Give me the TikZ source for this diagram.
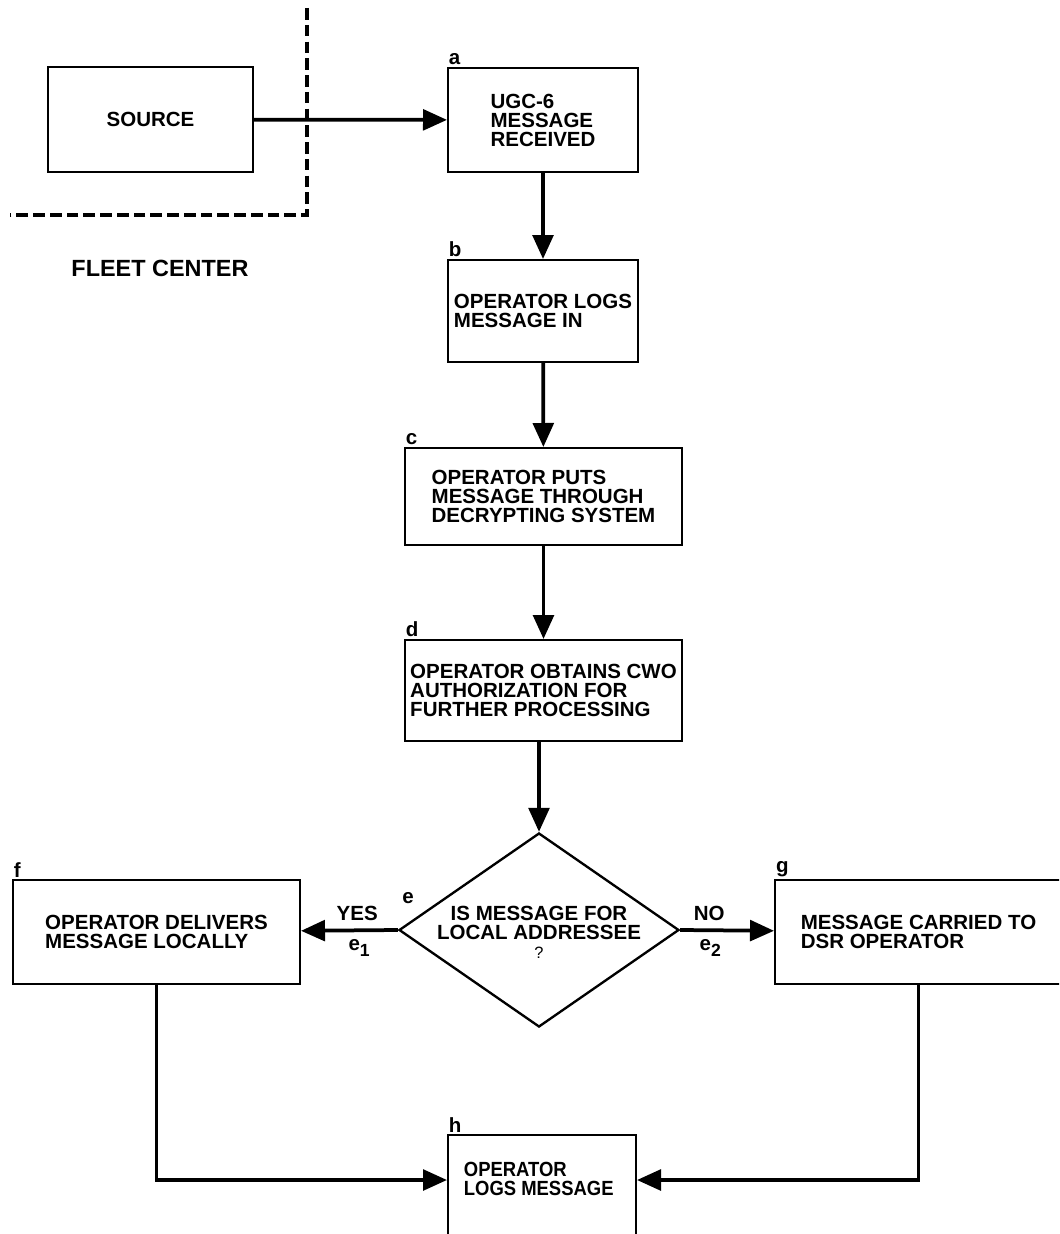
\documentclass[tikz,border=0pt]{standalone}
\usepackage{fontspec}
\setmainfont{Liberation Sans}
\newfontfamily\narrowsans{Liberation Sans}[FakeStretch=0.9]
\usetikzlibrary{arrows.meta,shapes.geometric}

% lowered subscript index used on the branch labels
\newcommand{\branchidx}[1]{\raisebox{-5pt}{\fontsize{15}{15}\selectfont #1}}

\begin{document}
\begin{tikzpicture}[x=0.03cm,y=-0.03cm,
  every node/.style={font=\fontsize{17.5}{16.2}\selectfont\bfseries},
  stepbox/.style={draw, line width=1.7pt, align=left, inner sep=0pt},
  decision/.style={diamond, draw, line width=2pt, inner sep=0pt},
  flow/.style={line width=3.2pt, -{Triangle[length=0.72cm,width=0.62cm]}},
  tag/.style={anchor=south west, inner sep=1.5pt},
  boundary/.style={line width=2.6pt, dash pattern=on 10pt off 4.3pt},
]
\useasboundingbox (0,0) rectangle (1059,1234);
\clip (0,0) rectangle (1059,1234);

% fleet center boundary
\draw[boundary] (307,8) -- (307,215) -- (10,215);
\node (fleet) at (160,268) {\fontsize{20}{20}\selectfont FLEET CENTER};

% process boxes
\node[stepbox, minimum width=6.15cm, minimum height=3.15cm] (src) at (150.5,119.5) {SOURCE};
\node[stepbox, minimum width=5.7cm, minimum height=3.12cm] (a) at (543,120) {UGC-6\\MESSAGE\\RECEIVED};
\node[stepbox, minimum width=5.7cm, minimum height=3.06cm] (b) at (543,311) {OPERATOR LOGS\\MESSAGE IN};
\node[stepbox, minimum width=8.31cm, minimum height=2.91cm] (c) at (543.5,496.5) {OPERATOR PUTS\\MESSAGE THROUGH\\DECRYPTING SYSTEM};
\node[stepbox, minimum width=8.31cm, minimum height=3.03cm] (d) at (543.5,690.5) {OPERATOR OBTAINS CWO\\AUTHORIZATION FOR\\FURTHER PROCESSING};

% decision
\node[decision, minimum width=8.4cm, minimum height=5.82cm] (e) at (539,930) {};
\node[align=center, inner sep=0pt] (etext) at ([yshift=-0.06cm]e) {IS MESSAGE FOR\\LOCAL ADDRESSEE\\{\fontsize{14}{14}\selectfont\mdseries ?}};

\node[stepbox, minimum width=8.61cm, minimum height=3.12cm] (f) at (156.5,932) {OPERATOR DELIVERS\\MESSAGE LOCALLY};
\node[stepbox, minimum width=8.61cm, minimum height=3.12cm] (g) at (918.5,932) {MESSAGE CARRIED TO\\DSR OPERATOR};
\node[stepbox, minimum width=5.64cm, minimum height=3.15cm] (h) at (542,1187.5) {};
\node[align=left, anchor=west, inner sep=0pt] (htext) at ([xshift=0.5cm, yshift=0.27cm]h.west)
  {\narrowsans\bfseries OPERATOR\\\narrowsans\bfseries LOGS MESSAGE};

% step letters
\node[tag] (la) at (a.north west) {a};
\node[tag] (lb) at (b.north west) {b};
\node[tag] (lc) at (c.north west) {c};
\node[tag] (ld) at (d.north west) {d};
\node[tag] (lf) at (f.north west) {f};
\node[tag] (lg) at (g.north west) {g};
\node[tag] (lh) at (h.north west) {h};
\node (le) at (408,898) {e};

% connectors
\draw[flow] (src) -- (a);
\draw[flow] (a) -- (b);
\draw[flow] (b) -- (c);
\draw[flow] (c) -- (d);
\draw[flow] (d.south -| e.north) -- (e.north);
\draw[flow] (e.west) -- node[pos=0.42, above=3pt] (yes) {YES}
  node[pos=0.4, below=3pt] (e1) {e\branchidx{1}} (f);
\draw[flow] (e.east) -- node[pos=0.31, above=3pt] (no) {NO}
  node[pos=0.32, below=3pt] (e2) {e\branchidx{2}} (g);
\draw[flow] (f.south) |- ([yshift=0.225cm]h.west);
\draw[flow] (g.south) |- ([yshift=0.225cm]h.east);
\end{tikzpicture}
\end{document}
